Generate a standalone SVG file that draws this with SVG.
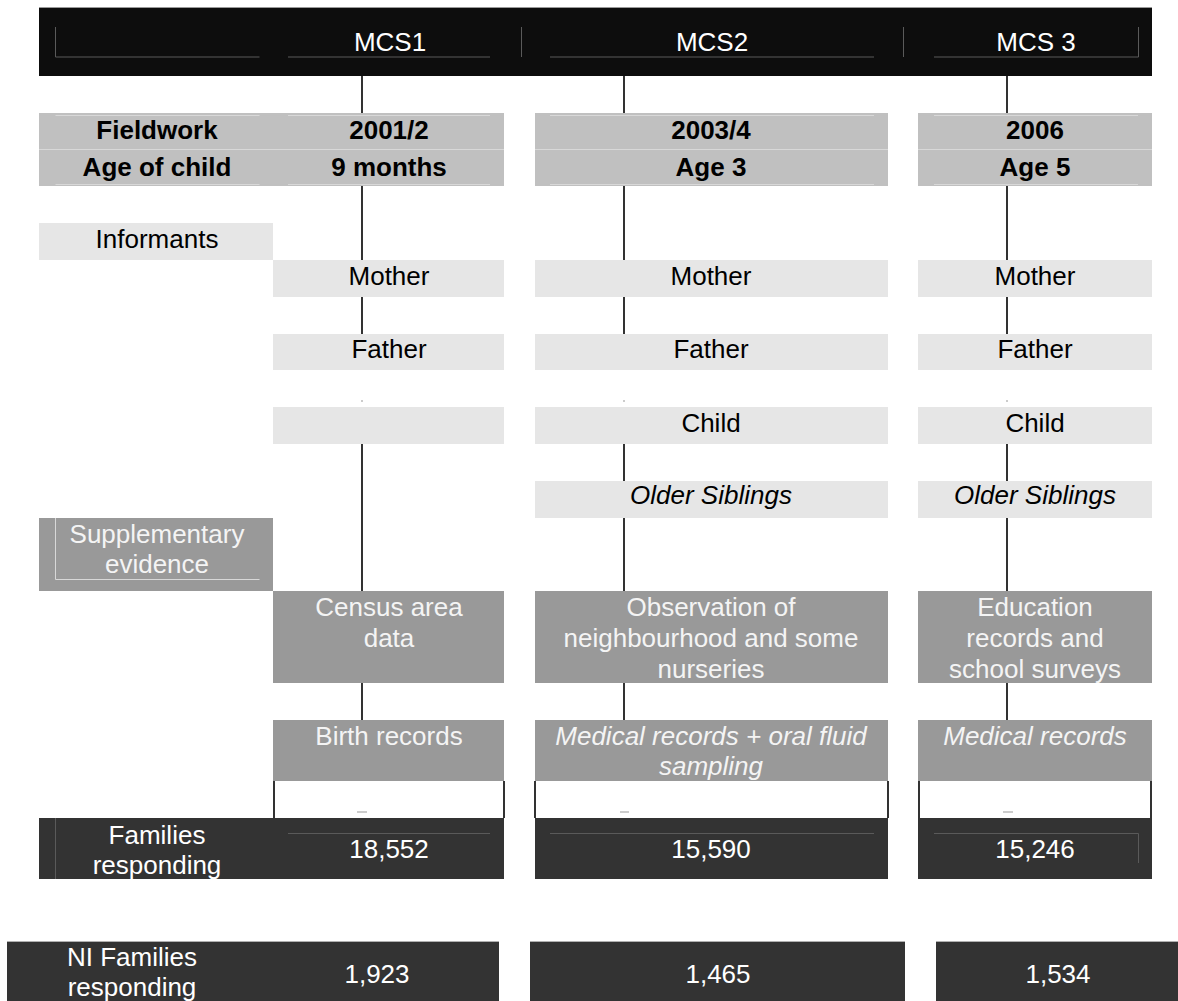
<svg xmlns="http://www.w3.org/2000/svg" width="1178" height="1001" viewBox="0 0 1178 1001">
<style>
.t{font-family:"Liberation Sans",Arial,Helvetica,sans-serif;font-size:26px;text-anchor:middle}
.w{fill:#ffffff}
.lw{fill:#f4f4f4}
.k{fill:#000000}
.b{font-weight:bold}
.i{font-style:italic}
.hd{fill:#0d0d0d}
.g1{fill:#c0c0c0}
.g2{fill:#e6e6e6}
.g3{fill:#999999}
.dk{fill:#333333}
.fl{stroke:#5a5a5a;stroke-width:1;fill:none}
.fg{stroke:#d8d8d8;stroke-width:1;fill:none}
.ln{stroke:#000000;stroke-width:1.6;fill:none}
.dot{stroke:#999999;stroke-width:1;fill:none}
</style>
<rect width="1178" height="1001" fill="#ffffff"/>

<g id="connectors">
  <path class="ln" d="M362,76V113M362,186V260M362,297V334M362,444V591M362,683V720"/>
  <path class="ln" d="M624,76V113M624,186V260M624,297V334M624,444V481M624,518V591M624,683V720"/>
  <path class="ln" d="M1007,76V113M1007,186V260M1007,297V334M1007,444V481M1007,518V591M1007,683V720"/>
  <path class="ln" d="M274,781V818M504,781V818M535,781V818M888,781V818M919,781V818M1151,781V818"/>
  <path class="dot" d="M361,401h2M623,401h2M1006,401h2M357,812h10M620,812h9M1003,812h10"/>
</g>

<g id="header">
  <rect class="hd" x="39" y="7" width="1113" height="69"/>
  <path d="M39,7.5H1152" stroke="#9a9a9a" stroke-width="1"/>
  <path class="fl" d="M55.5,27V57H259.5M288,57H490M521.5,27V57M550,57H874M903.5,27V57M934,57H1138.5V27"/>
  <text class="t w" x="390" y="51">MCS1</text>
  <text class="t w" x="712" y="51">MCS2</text>
  <text class="t w" x="1036" y="51">MCS 3</text>
</g>

<g id="fieldwork">
  <rect class="g1" x="39" y="113" width="465" height="73"/>
  <rect class="g1" x="535" y="113" width="353" height="73"/>
  <rect class="g1" x="918" y="113" width="234" height="73"/>
  <path class="fg" d="M39,149.5H504M535,149.5H888M918,149.5H1152M55.5,115.5H259.5M288,115.5H490M55.5,184.5H259.5M288,184.5H490M550,115.5H874M550,184.5H874M934,115.5H1138M934,184.5H1138"/>
  <text class="t k b" x="157" y="139">Fieldwork</text>
  <text class="t k b" x="389" y="139">2001/2</text>
  <text class="t k b" x="711" y="139">2003/4</text>
  <text class="t k b" x="1035" y="139">2006</text>
  <text class="t k b" x="157" y="176">Age of child</text>
  <text class="t k b" x="389" y="176">9 months</text>
  <text class="t k b" x="711" y="176">Age 3</text>
  <text class="t k b" x="1035" y="176">Age 5</text>
</g>

<g id="informants">
  <rect class="g2" x="39" y="223" width="234" height="37"/>
  <text class="t k" x="157" y="248">Informants</text>
</g>

<g id="mother">
  <rect class="g2" x="273" y="260" width="231" height="37"/>
  <rect class="g2" x="535" y="260" width="353" height="37"/>
  <rect class="g2" x="918" y="260" width="234" height="37"/>
  <text class="t k" x="389" y="285">Mother</text>
  <text class="t k" x="711" y="285">Mother</text>
  <text class="t k" x="1035" y="285">Mother</text>
</g>

<g id="father">
  <rect class="g2" x="273" y="334" width="231" height="36"/>
  <rect class="g2" x="535" y="334" width="353" height="36"/>
  <rect class="g2" x="918" y="334" width="234" height="36"/>
  <text class="t k" x="389" y="358">Father</text>
  <text class="t k" x="711" y="358">Father</text>
  <text class="t k" x="1035" y="358">Father</text>
</g>

<g id="child">
  <rect class="g2" x="273" y="407" width="231" height="37"/>
  <rect class="g2" x="535" y="407" width="353" height="37"/>
  <rect class="g2" x="918" y="407" width="234" height="37"/>
  <text class="t k" x="711" y="432">Child</text>
  <text class="t k" x="1035" y="432">Child</text>
</g>

<g id="siblings">
  <rect class="g2" x="535" y="481" width="353" height="37"/>
  <rect class="g2" x="918" y="481" width="234" height="37"/>
  <text class="t k i" x="711" y="504">Older Siblings</text>
  <text class="t k i" x="1035" y="504">Older Siblings</text>
</g>

<g id="supplementary">
  <rect class="g3" x="39" y="518" width="234" height="73"/>
  <path class="fg" d="M55.5,518V579.5H259.5" stroke="#aaaaaa"/>
  <text class="t lw" x="157" y="543">Supplementary</text>
  <text class="t lw" x="157" y="573">evidence</text>
</g>

<g id="census">
  <rect class="g3" x="273" y="591" width="231" height="92"/>
  <text class="t lw" x="389" y="616">Census area</text>
  <text class="t lw" x="389" y="647">data</text>
</g>

<g id="observation">
  <rect class="g3" x="535" y="591" width="353" height="92"/>
  <text class="t lw" x="711" y="616">Observation of</text>
  <text class="t lw" x="711" y="647">neighbourhood and some</text>
  <text class="t lw" x="711" y="678">nurseries</text>
</g>

<g id="education">
  <rect class="g3" x="918" y="591" width="234" height="92"/>
  <text class="t lw" x="1035" y="616">Education</text>
  <text class="t lw" x="1035" y="647">records and</text>
  <text class="t lw" x="1035" y="678">school surveys</text>
</g>

<g id="records">
  <rect class="g3" x="273" y="720" width="231" height="61"/>
  <rect class="g3" x="535" y="720" width="353" height="61"/>
  <rect class="g3" x="918" y="720" width="234" height="61"/>
  <text class="t lw" x="389" y="745">Birth records</text>
  <text class="t lw i" x="711" y="745">Medical records + oral fluid</text>
  <text class="t lw i" x="711" y="775">sampling</text>
  <text class="t lw i" x="1035" y="745">Medical records</text>
</g>

<g id="families">
  <rect class="dk" x="39" y="818" width="465" height="61"/>
  <rect class="dk" x="535" y="818" width="353" height="61"/>
  <rect class="dk" x="918" y="818" width="234" height="61"/>
  <path class="fl" d="M55.5,818V879M288,833.5H490M550,833.5H874M934,833.5H1138.5V863"/>
  <text class="t w" x="157" y="844">Families</text>
  <text class="t w" x="157" y="874">responding</text>
  <text class="t w" x="389" y="858">18,552</text>
  <text class="t w" x="711" y="858">15,590</text>
  <text class="t w" x="1035" y="858">15,246</text>
</g>

<g id="ni-families">
  <rect class="dk" x="7" y="941" width="492" height="60"/>
  <rect class="dk" x="530" y="941" width="375" height="60"/>
  <rect class="dk" x="936" y="941" width="242" height="60"/>
  <path d="M7,941.5H499M530,941.5H905M936,941.5H1178" stroke="#b0b0b0" stroke-width="1"/>
  <text class="t w" x="132" y="966">NI Families</text>
  <text class="t w" x="132" y="996">responding</text>
  <text class="t w" x="377" y="983">1,923</text>
  <text class="t w" x="718" y="983">1,465</text>
  <text class="t w" x="1058" y="983">1,534</text>
</g>
</svg>
